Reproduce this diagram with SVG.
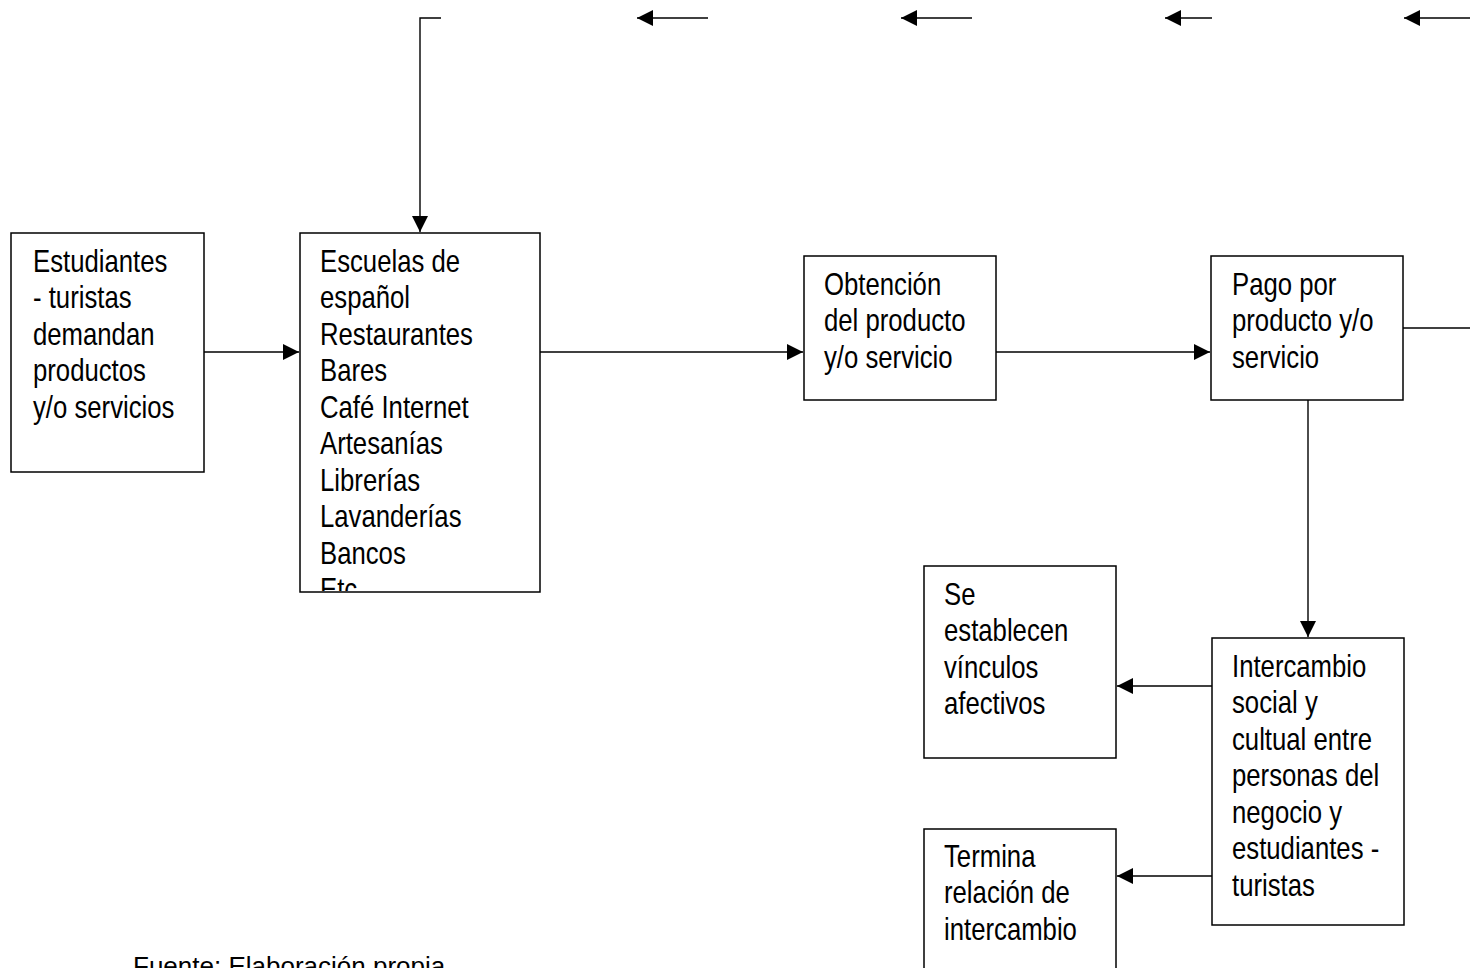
<svg xmlns="http://www.w3.org/2000/svg" width="1470" height="968" viewBox="0 0 1470 968">
<style>
.box{fill:#fff;stroke:#000;stroke-width:1.5}
.t{font-family:"Liberation Sans",Arial,sans-serif;font-size:31px;fill:#000}
.src{font-family:"Liberation Sans",Arial,sans-serif;font-size:26px;fill:#000}
.c{fill:none;stroke:#000;stroke-width:1.4}
</style>
<defs>
<marker id="ah" markerUnits="userSpaceOnUse" markerWidth="16" markerHeight="16" viewBox="0 0 16 16" refX="16" refY="8" orient="auto">
<path d="M0,0 L16,8 L0,16 Z" fill="#000"/>
</marker>
<clipPath id="clip2"><rect x="300" y="233" width="240" height="358"/></clipPath>
</defs>
<g id="connectors">
<path class="c" d="M204,352 H299" marker-end="url(#ah)"/>
<path class="c" d="M540,352 H803" marker-end="url(#ah)"/>
<path class="c" d="M996,352 H1210" marker-end="url(#ah)"/>
<path class="c" d="M1403,328 H1470"/>
<path class="c" d="M1308,400 V637" marker-end="url(#ah)"/>
<path class="c" d="M1212,686 H1117" marker-end="url(#ah)"/>
<path class="c" d="M1212,876 H1117" marker-end="url(#ah)"/>
<path class="c" d="M441,18 H420 V232" marker-end="url(#ah)"/>
<path class="c" d="M708,18 H637" marker-end="url(#ah)"/>
<path class="c" d="M972,18 H901" marker-end="url(#ah)"/>
<path class="c" d="M1212,18 H1165" marker-end="url(#ah)"/>
<path class="c" d="M1470,18 H1404" marker-end="url(#ah)"/>
</g>
<g id="n1">
<rect class="box" x="11" y="233" width="193" height="239"/>
<g transform="translate(33,0) scale(0.83,1)">
<text class="t" x="0" y="272">Estudiantes</text>
<text class="t" x="0" y="308.5">- turistas</text>
<text class="t" x="0" y="345">demandan</text>
<text class="t" x="0" y="381.5">productos</text>
<text class="t" x="0" y="418">y/o servicios</text>
</g>
</g>
<g id="n2">
<rect class="box" x="300" y="233" width="240" height="359"/>
<g clip-path="url(#clip2)">
<g transform="translate(320,0) scale(0.83,1)">
<text class="t" x="0" y="272">Escuelas de</text>
<text class="t" x="0" y="308.5">español</text>
<text class="t" x="0" y="345">Restaurantes</text>
<text class="t" x="0" y="381.5">Bares</text>
<text class="t" x="0" y="418">Café Internet</text>
<text class="t" x="0" y="454.5">Artesanías</text>
<text class="t" x="0" y="491">Librerías</text>
<text class="t" x="0" y="527.5">Lavanderías</text>
<text class="t" x="0" y="564">Bancos</text>
<text class="t" x="0" y="600.5">Etc</text>
</g>
</g>
</g>
<g id="n3">
<rect class="box" x="804" y="256" width="192" height="144"/>
<g transform="translate(824,0) scale(0.83,1)">
<text class="t" x="0" y="295">Obtención</text>
<text class="t" x="0" y="331.5">del producto</text>
<text class="t" x="0" y="368">y/o servicio</text>
</g>
</g>
<g id="n4">
<rect class="box" x="1211" y="256" width="192" height="144"/>
<g transform="translate(1232,0) scale(0.83,1)">
<text class="t" x="0" y="295">Pago por</text>
<text class="t" x="0" y="331.5">producto y/o</text>
<text class="t" x="0" y="368">servicio</text>
</g>
</g>
<g id="n5">
<rect class="box" x="924" y="566" width="192" height="192"/>
<g transform="translate(944,0) scale(0.83,1)">
<text class="t" x="0" y="605">Se</text>
<text class="t" x="0" y="641.5">establecen</text>
<text class="t" x="0" y="678">vínculos</text>
<text class="t" x="0" y="714.5">afectivos</text>
</g>
</g>
<g id="n6">
<rect class="box" x="1212" y="638" width="192" height="287"/>
<g transform="translate(1232,0) scale(0.83,1)">
<text class="t" x="0" y="677">Intercambio</text>
<text class="t" x="0" y="713.5">social y</text>
<text class="t" x="0" y="750">cultual entre</text>
<text class="t" x="0" y="786.5">personas del</text>
<text class="t" x="0" y="823">negocio y</text>
<text class="t" x="0" y="859.5">estudiantes -</text>
<text class="t" x="0" y="896">turistas</text>
</g>
</g>
<g id="n7">
<rect class="box" x="924" y="829" width="192" height="160"/>
<g transform="translate(944,0) scale(0.83,1)">
<text class="t" x="0" y="867">Termina</text>
<text class="t" x="0" y="903.5">relación de</text>
<text class="t" x="0" y="940">intercambio</text>
</g>
</g>
<text class="src" x="133" y="975">Fuente: Elaboración propia</text>
</svg>
